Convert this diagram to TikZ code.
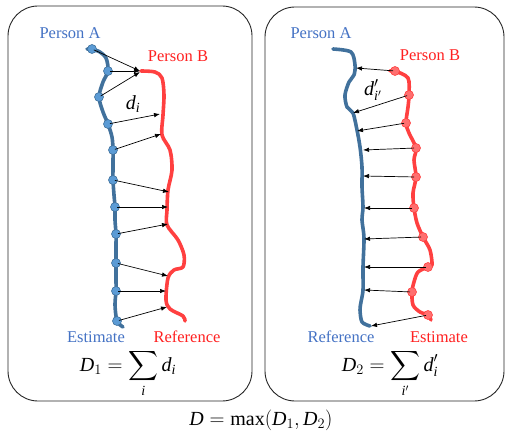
\documentclass[tikz,border=0pt]{standalone}
\usepackage{amsmath}
\usepackage{fontspec}
\setmainfont{Liberation Serif}
\usetikzlibrary{arrows.meta}
\definecolor{curveA}{HTML}{41719C}
\definecolor{dotA}{HTML}{5B9BD5}
\definecolor{labA}{HTML}{4472C4}
\definecolor{curveB}{HTML}{FF4040}
\definecolor{dotB}{HTML}{FF6F6F}
\definecolor{labB}{HTML}{FF2020}
\newcommand{\vD}{\mathit{D}}
\newcommand{\vd}{\mathit{d}}
\newcommand{\vi}{\mathit{i}}
\tikzset{
  panel/.style={draw=black!85, line width=0.9pt, rounded corners=30pt},
  pathA/.style={draw=curveA, line width=3.6pt, line cap=round, line join=round},
  pathB/.style={draw=curveB, line width=3.6pt, line cap=round, line join=round},
  dotblue/.style={circle, fill=dotA, draw=curveA, line width=0.6pt, inner sep=0pt, minimum size=9pt},
  dotred/.style={circle, fill=dotB, draw=curveB, line width=0.6pt, inner sep=0pt, minimum size=9pt},
  dist/.style={draw=black, line width=0.7pt, -{Latex[length=6pt,width=4.5pt]}, shorten <=2pt},
  labelA/.style={text=labA, inner sep=0pt, anchor=base, font=\fontsize{16.5}{18}\selectfont},
  labelB/.style={text=labB, inner sep=0pt, anchor=base, font=\fontsize{16.5}{18}\selectfont},
  formula/.style={font=\fontsize{20}{24}\selectfont, inner sep=0pt, anchor=base},
}
\begin{document}
\begin{tikzpicture}[x=1pt,y=-1pt]
\useasboundingbox (0,0) rectangle (508,438);
% panels
\draw[panel] (8,6) rectangle (252,401);
\draw[panel] (265,7) rectangle (504,401);

%% ---------- left panel ----------
\draw[pathB] plot[smooth, tension=0.5] coordinates {
 (141,71) (155,72) (162,78) (164,95) (163,115) (162,135) (170,150) (172,170)
 (168,190) (167,210) (167,225) (178,240) (184,255) (183,267) (174,270)
 (168,278) (166,300) (170,309) (183,316) (185,321)};
\draw[pathA] plot[smooth, tension=0.5] coordinates {
 (87,49) (98,51) (106,58) (108,71) (103,82) (99,97) (103,112) (108,124)
 (112,137) (113,150) (113,165) (113,180) (114,195) (115,207) (115,220)
 (116,234) (116,248) (116,263) (116,277) (116,291) (115,305) (117,321) (123,327)};

\node[dotblue] (a1) at (92,49) {};
\node[dotblue] (a2) at (108,71) {};
\node[dotblue] (a3) at (99,97) {};
\node[dotblue] (a4) at (108,124) {};
\node[dotblue] (a5) at (113,150) {};
\node[dotblue] (a6) at (113,180) {};
\node[dotblue] (a7) at (115,207) {};
\node[dotblue] (a8) at (116,234) {};
\node[dotblue] (a9) at (116,263) {};
\node[dotblue] (a10) at (116,291) {};
\node[dotblue] (a11) at (117,321) {};

\coordinate (b1) at (140,71);
\coordinate (b2) at (140,71);
\coordinate (b3) at (140,72);
\coordinate (b4) at (160,114);
\coordinate (b5) at (161,134);
\coordinate (b6) at (169,192);
\coordinate (b7) at (168,207);
\coordinate (b8) at (168,224);
\coordinate (b9) at (168,276);
\coordinate (b10) at (166,291);
\coordinate (b11) at (167,307);

\foreach \i in {1,...,11} \draw[dist] (a\i.center) -- (b\i);

\node[font=\fontsize{20}{24}\selectfont] (di) at (133,104) {$\vd_{\vi}$};
\node[labelA] (pA1) at (70,39) {Person A};
\node[labelB] (pB1) at (178,62) {Person B};
\node[labelA] (est1) at (96,342) {Estimate};
\node[labelB] (ref1) at (187,342) {Reference};
\node[formula] (D1) at (128,371) {$\vD_1=\displaystyle\sum_{\vi} \vd_{\vi}$};

%% ---------- right panel ----------
\draw[pathA] plot[smooth, tension=0.5] coordinates {
 (333,49) (351,52) (355,65) (354,75) (349,82) (345,95) (347,107) (353,113)
 (357,130) (360,147) (362,167) (362,187) (363,207) (362,220) (364,238)
 (363,267) (363,290) (361,302) (360,310) (362,322) (370,326)};
\draw[pathB] plot[smooth, tension=0.5] coordinates {
 (390,71) (395,71) (408,78) (409,95) (408,107) (406,123) (409,133) (416,148)
 (414,160) (416,177) (413,193) (414,208) (417,223) (423,237) (430,250)
 (432,265) (428,267) (418,272) (414,282) (412,292) (413,305) (420,312)
 (428,315) (431,320)};

\node[dotred] (r1) at (395,71) {};
\node[dotred] (r2) at (409,95) {};
\node[dotred] (r3) at (406,123) {};
\node[dotred] (r4) at (416,148) {};
\node[dotred] (r5) at (416,177) {};
\node[dotred] (r6) at (414,208) {};
\node[dotred] (r7) at (423,237) {};
\node[dotred] (r8) at (428,267) {};
\node[dotred] (r9) at (412,292) {};
\node[dotred] (r10) at (428,315) {};

\coordinate (q1) at (356,68);
\coordinate (q2) at (353,113);
\coordinate (q3) at (357,131);
\coordinate (q4) at (363,150);
\coordinate (q5) at (363,176);
\coordinate (q6) at (364,208);
\coordinate (q7) at (364,239);
\coordinate (q8) at (364,267);
\coordinate (q9) at (364,290);
\coordinate (q10) at (371,326);

\foreach \i in {1,...,10} \draw[dist] (r\i.center) -- (q\i);

\node[font=\fontsize{20}{24}\selectfont] (dp) at (373,90) {$\vd'_{\vi'}$};
\node[labelA] (pA2) at (321,39) {Person A};
\node[labelB] (pB2) at (430,61) {Person B};
\node[labelA] (ref2) at (341,342) {Reference};
\node[labelB] (est2) at (439,342) {Estimate};
\node[formula] (D2) at (390,371) {$\vD_2=\displaystyle\sum_{\vi'} \vd'_{\vi}$};

%% ---------- bottom ----------
\node[formula] (D) at (261,425) {$\vD=\max(\vD_1,\vD_2)$};
\end{tikzpicture}
\end{document}
